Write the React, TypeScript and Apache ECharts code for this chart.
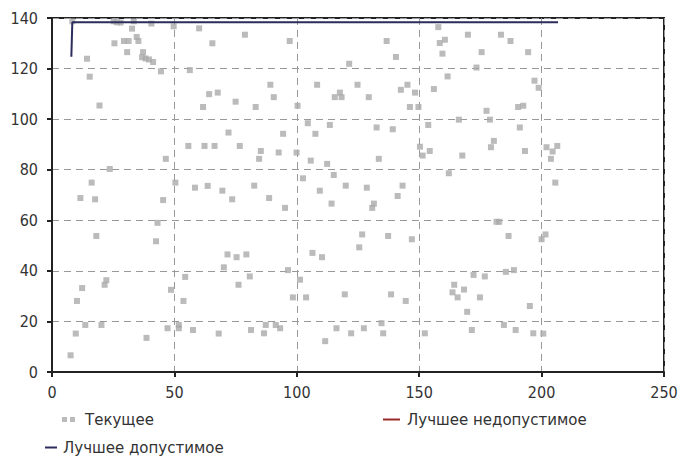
import React, { useEffect, useRef } from "react";
import * as echarts from "echarts";

const xTicks = { min: 0, max: 250, interval: 50 };
const yTicks = { min: 0, max: 140, interval: 20 };

const seriesNames = ["Текущее", "Лучшее недопустимое", "Лучшее допустимое"];

const currentPoints: number[][] = [
  [8.3, 138.7], [14.3, 123.9], [15.4, 116.8], [19.4, 105.4], [23.6, 80.3], [16.2, 74.9], [11.6, 68.8], [17.6, 68.3],
  [25.2, 138.7], [26.5, 138.3], [28, 138.2], [25.5, 130], [29.4, 130.9], [31.3, 130.9], [30.7, 126.5], [32.7, 135.8],
  [33.4, 138.7], [34.6, 132.5], [35.3, 130.9], [37.2, 126.5], [36.8, 124.5], [38.2, 124], [39.6, 123.6], [41.3, 122.6],
  [40.6, 137.8], [44.5, 118.9], [46.5, 84.3], [45.4, 68], [49.7, 136.7], [50.4, 74.9], [56.3, 119.4], [55.7, 89.4],
  [60.1, 135.9], [65.5, 130], [61.7, 104.8], [64.2, 109.9], [67.7, 110.5], [62.3, 89.4], [66.4, 89.4], [72.1, 94.7],
  [75, 106.9], [76.7, 89.4], [58.4, 72.9], [63.6, 73.6], [69.6, 71.7], [73.6, 68.3],
  [18.1, 53.8], [7.6, 6.6], [9.7, 15.2], [10.2, 28.1], [12.3, 33.2], [13.6, 18.6], [20.2, 18.6], [21.5, 34.5],
  [22.2, 36.3], [43.1, 59], [42.5, 51.7], [38.6, 13.5], [47.2, 17.3], [48.6, 32.5], [51.8, 18.6], [51.8, 17.3],
  [53.7, 28.1], [54.4, 37.6], [57.6, 16.6], [68.1, 15.2], [70.2, 41.4], [71.7, 46.5], [75.4, 45.4], [76.2, 34.5],
  [78.8, 133.4], [97.1, 130.9], [136.7, 130.9], [140.5, 124.6], [121.4, 121.9], [157.8, 136.4], [158.4, 130.1],
  [160.5, 131.4], [159.5, 125.9], [169.9, 133.4], [161.6, 116.9], [89.2, 113.6], [108.3, 113.6], [124.8, 113.6],
  [90.6, 108.7], [83.2, 104.8], [117.6, 110.5], [115.5, 108.7], [118.3, 108.7], [129.4, 108.7], [142.5, 111.6],
  [145.2, 113.6], [148.3, 110.5], [146.2, 104.8], [149.7, 104.8], [156, 111.9], [100.3, 105.3], [104.5, 98.4],
  [113.5, 97.7], [94.4, 94.2], [107.6, 94.2], [132.6, 96.7], [139.2, 96], [153.7, 97.7], [166.2, 99.8],
  [85.3, 87.4], [84.6, 84.3], [92.6, 86.8], [99.9, 86.8], [105.7, 83.6], [112.4, 82.3], [133.5, 84.3], [150.3, 89.1],
  [151.4, 85.6], [154.3, 87.4], [167.6, 85.6], [162.1, 78.6], [102.5, 76.6], [115.1, 77.9], [82.6, 73.7], [88.7, 68.8],
  [109.4, 71.7], [120, 73.7], [128.6, 72.9], [143.2, 73.7], [141.2, 69.6],
  [95.2, 64.9], [114.2, 66.6], [131.5, 66.6], [130.8, 64.9], [126.7, 54.4], [125.5, 49.3], [137.3, 53.8], [147, 52.5],
  [106.4, 47.1], [110.3, 45.4], [79.4, 46.5], [96.4, 40.3], [101.3, 36.5], [80.8, 37.8], [98.4, 29.5], [103.8, 29.5],
  [119.6, 30.7], [138.5, 30.7], [144.5, 28.1], [81.3, 16.6], [86.6, 15.3], [87.3, 18.6], [91.4, 18.6], [93.2, 17.3],
  [111.6, 12.2], [116.2, 17.3], [122.2, 15.3], [127.4, 17.3], [134.6, 19.3], [135.3, 15.3], [152.3, 15.3],
  [164.3, 34.5], [163.6, 31.5], [165.7, 29.5], [168.3, 32.6], [169.6, 23.8], [171.5, 16.6],
  [183.4, 133.4], [187.3, 130.9], [175.5, 126.5], [194.5, 126.5], [173.4, 120.4], [197.1, 115.2], [198.8, 112.4],
  [177.5, 103.3], [178.9, 99.8], [190.4, 104.8], [192.5, 105.3], [191.1, 96.7], [180.5, 91.4], [179.3, 88.9],
  [193.2, 87.4], [202, 88.9], [204.5, 87.2], [206.4, 89.4], [203.8, 84.3], [205.6, 74.9],
  [181.6, 59.4], [182.7, 59.4], [186.5, 53.8], [201.6, 54.4], [200, 52.5], [185.4, 39.6], [188.7, 40.3],
  [172.2, 38.4], [176.8, 37.8], [174.8, 29.5], [195.2, 26.1], [184.6, 18.6], [189.4, 16.6], [196.6, 15.3], [200.7, 15.2],
];

const bestInfeasible: number[][] = [];

const bestFeasible: number[][] = [
  [7.9, 124.7], [8.3, 138.3], [206.7, 138.3],
];

const FONT = "'DejaVu Sans Condensed', 'DejaVu Sans', sans-serif";
const LEGEND_FONT = "'DejaVu Sans', sans-serif";

export default function App() {
  const ref = useRef<HTMLDivElement>(null);
  useEffect(() => {
    if (!ref.current) return;
    const chart = echarts.init(ref.current, null, { renderer: "svg" });
    const legendText = { fontSize: 15, color: "#333", fontFamily: LEGEND_FONT };
    chart.setOption({
      animation: false,
      backgroundColor: "#ffffff",
      grid: {
        left: 52, right: 17, top: 18, bottom: 87,
        show: true, borderColor: "#222", borderWidth: 2, backgroundColor: "transparent",
      },
      legend: [
        {
          data: [{ name: seriesNames[0], icon: "path://M0,0h5v5h-5zM8,0h5v5h-5z" }],
          left: 62, top: 412, padding: 0, itemWidth: 13, itemHeight: 5, itemGap: 10,
          textStyle: { ...legendText, padding: [0, 0, 0, 5] },
        },
        {
          data: [{ name: seriesNames[1], icon: "rect" }],
          left: 383, top: 412, padding: 0, itemWidth: 17, itemHeight: 2,
          textStyle: { ...legendText, padding: [0, 0, 0, 2] },
        },
        {
          data: [{ name: seriesNames[2], icon: "rect" }],
          left: 45, top: 440, padding: 0, itemWidth: 12, itemHeight: 2,
          textStyle: { ...legendText, padding: [0, 0, 0, 1] },
        },
      ],
      xAxis: {
        type: "value",
        min: xTicks.min, max: xTicks.max, interval: xTicks.interval,
        axisLine: { show: true, lineStyle: { color: "#222", width: 2 } },
        axisTick: { show: true, length: 5, lineStyle: { color: "#222", width: 2 } },
        axisLabel: { margin: 12, fontSize: 16, color: "#333", fontFamily: FONT },
        splitLine: { show: true, lineStyle: { color: "#999", width: 1, type: [7, 5] } },
      },
      yAxis: {
        type: "value",
        min: yTicks.min, max: yTicks.max, interval: yTicks.interval,
        axisLine: { show: true, lineStyle: { color: "#222", width: 2 } },
        axisTick: { show: true, length: 5, lineStyle: { color: "#222", width: 2 } },
        axisLabel: { margin: 14, fontSize: 16, color: "#333", fontFamily: FONT },
        splitLine: { show: true, lineStyle: { color: "#999", width: 1, type: [7, 5] } },
      },
      series: [
        {
          name: seriesNames[0],
          type: "scatter",
          symbol: "rect",
          symbolSize: 6,
          itemStyle: { color: "#aaaaaa" },
          data: currentPoints,
          z: 2,
        },
        {
          name: seriesNames[1],
          type: "line",
          symbol: "none",
          itemStyle: { color: "#9b2b2b" },
          lineStyle: { color: "#9b2b2b", width: 2 },
          data: bestInfeasible,
          z: 3,
        },
        {
          name: seriesNames[2],
          type: "line",
          symbol: "none",
          itemStyle: { color: "#2b2d5c" },
          lineStyle: { color: "#2b2d5c", width: 2 },
          data: bestFeasible,
          z: 4,
        },
      ],
    });
    return () => chart.dispose();
  }, []);
  return (
    <div
      ref={ref}
      style={{ position: "fixed", left: 0, top: 0, width: 681, height: 459, background: "#fff" }}
    />
  );
}
